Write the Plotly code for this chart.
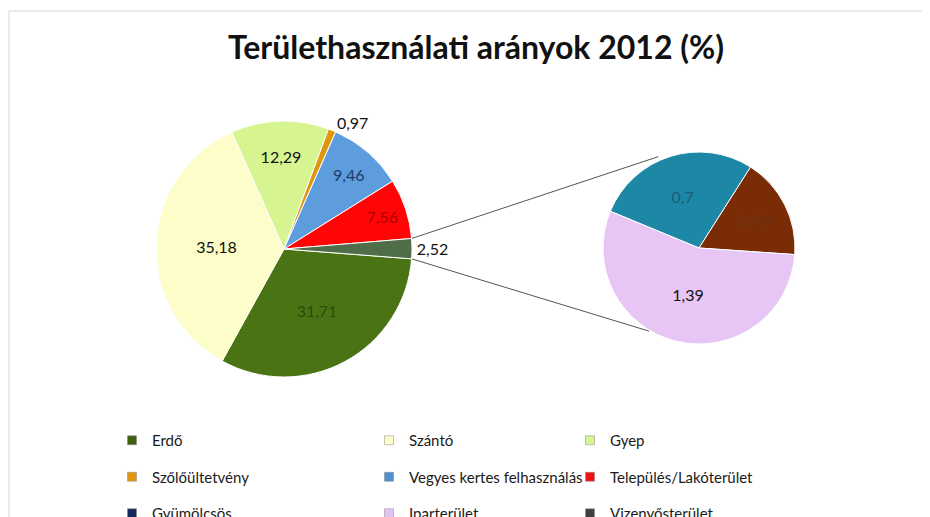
import math
import plotly.graph_objects as go

# ---------------- data ----------------
main_labels = ["Erdő", "Szántó", "Gyep", "Szőlőültetvény",
               "Vegyes kertes felhasználás", "Település/Lakóterület", "Egyéb"]
main_values = [31.71, 35.18, 12.29, 0.97, 9.46, 7.56, 2.52]
main_colors = ["#4a7414", "#fdfdc9", "#d6f590", "#de9610",
               "#5d9ddd", "#ff0505", "#4e6d48"]
main_text_colors = ["#2f4a0c", "#111111", "#111111", "#111111",
                    "#1f3864", "#b00000", "#111111"]
main_text_pos = ["inside", "inside", "inside", "outside",
                 "inside", "inside", "outside"]

sub_labels = ["Rész 1", "Rész 2", "Iparterület (rész)"]
sub_values = [0.7, 0.43, 1.39]
sub_colors = ["#1d87a6", "#7a2c06", "#e7c6f6"]
sub_text_colors = ["#1f5a7a", "#6a3318", "#111111"]

legend_labels = ["Erdő", "Szántó", "Gyep",
                 "Szőlőültetvény", "Vegyes kertes felhasználás", "Település/Lakóterület",
                 "Gyümölcsös", "Iparterület", "Vizenyősterület"]
legend_colors = ["#3f5f10", "#fdfdc9", "#d6f590",
                 "#de9610", "#4f8fd0", "#ee1010",
                 "#14285a", "#e2c4f2", "#404040"]

title_text = "Területhasználati arányok 2012 (%)"

# ---------------- geometry (figure pixels; page body adds an 8px offset) ----------------
W, H = 930, 517
main_c = (276, 241)
main_r = 128
sub_c = (691, 240)
sub_r = 96
main_rotation = 94.4
sub_rotation = -67.5


def dom(c, r):
    return dict(x=[(c[0] - r) / W, (c[0] + r) / W],
                y=[(H - c[1] - r) / H, (H - c[1] + r) / H])


FONT = "Lato"

fig = go.Figure()
fig.add_trace(go.Pie(
    labels=main_labels, values=main_values, sort=False, direction="clockwise",
    rotation=main_rotation, domain=dom(main_c, main_r),
    marker=dict(colors=main_colors, line=dict(color="#ffffff", width=1)),
    textinfo="value", textposition=main_text_pos,
    insidetextorientation="horizontal",
    insidetextfont=dict(family=FONT, size=16, color=main_text_colors),
    outsidetextfont=dict(family=FONT, size=16, color="#111111"),
    showlegend=False, hoverinfo="label+value",
))
fig.add_trace(go.Pie(
    labels=sub_labels, values=sub_values, sort=False, direction="clockwise",
    rotation=sub_rotation, domain=dom(sub_c, sub_r),
    marker=dict(colors=sub_colors, line=dict(color="#ffffff", width=1)),
    textinfo="value", textposition="inside",
    insidetextorientation="horizontal",
    insidetextfont=dict(family=FONT, size=16, color=sub_text_colors),
    showlegend=False, hoverinfo="label+value",
))

# legend entries (three columns as separate legends)
for i, (lab, col) in enumerate(zip(legend_labels, legend_colors)):
    lg = ["legend", "legend2", "legend3"][i % 3]
    fig.add_trace(go.Scatter(
        x=[None], y=[None], mode="markers", name=lab,
        marker=dict(symbol="square", size=9, color=col,
                    line=dict(color="#888888", width=0.5)),
        legend=lg, legendgroup=f"g{i}", showlegend=True,
    ))

# connector lines, derived from pie geometry
other_share = main_values[-1] / sum(main_values)
end_top_deg = 90 - main_rotation + other_share * 360
end_bot_deg = 90 - main_rotation
p1 = (main_c[0] + main_r * math.cos(math.radians(end_top_deg)),
      main_c[1] - main_r * math.sin(math.radians(end_top_deg)))
p2 = (main_c[0] + main_r * math.cos(math.radians(end_bot_deg)),
      main_c[1] - main_r * math.sin(math.radians(end_bot_deg)))
q1 = (sub_c[0] + (sub_r + 4) * math.cos(math.radians(114)),
      sub_c[1] - (sub_r + 4) * math.sin(math.radians(114)))
q2 = (sub_c[0] + (sub_r + 1) * math.cos(math.radians(-121)),
      sub_c[1] - (sub_r + 1) * math.sin(math.radians(-121)))

shapes = []
for a, b in [(p1, q1), (p2, q2)]:
    shapes.append(dict(type="line", xref="paper", yref="paper",
                       x0=a[0] / W, y0=(H - a[1]) / H, x1=b[0] / W, y1=(H - b[1]) / H,
                       line=dict(color="#555555", width=1), layer="below"))
# outer chart border (partially visible)
shapes.append(dict(type="rect", xref="paper", yref="paper",
                   x0=1 / W, y0=-0.2, x1=1.2, y1=(H - 3) / H,
                   line=dict(color="#d4d4d4", width=1), layer="below"))

leg_common = dict(orientation="v", font=dict(family=FONT, size=15, color="#1a1a1a"),
                  bgcolor="rgba(0,0,0,0)", tracegroupgap=14, yanchor="top",
                  xanchor="left", itemclick=False)
ly = (H - 416) / H
fig.update_layout(
    width=W, height=H,
    paper_bgcolor="#ffffff", plot_bgcolor="#ffffff",
    margin=dict(l=0, r=0, t=0, b=0, autoexpand=False),
    separators=", ",
    title=dict(text=f"<b>{title_text}</b>", x=468 / W, xanchor="center",
               y=1 - 40 / H, yanchor="middle", yref="container",
               font=dict(family=FONT, size=32, color="#111111")),
    xaxis=dict(visible=False), yaxis=dict(visible=False),
    legend=dict(x=104 / W, y=ly, **leg_common),
    legend2=dict(x=361 / W, y=ly, **leg_common),
    legend3=dict(x=562 / W, y=ly, **leg_common),
    shapes=shapes,
)

fig.write_html("out.html")
